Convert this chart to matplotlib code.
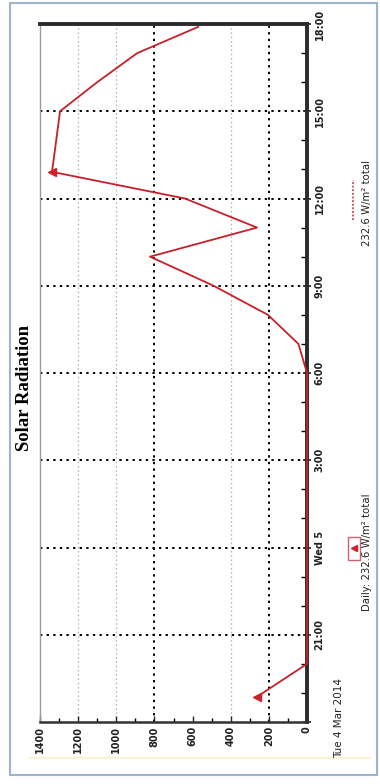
import matplotlib
matplotlib.use('Agg')
import matplotlib.pyplot as plt
from matplotlib.lines import Line2D
from matplotlib.patches import Rectangle
from matplotlib.ticker import MultipleLocator, FixedLocator

# solar radiation readings (W/m2), Tue 4 Mar 2014 18:00 -> Wed 18:00
times = ["18:52", "20:00", "21:00", "22:00", "23:00", "00:00", "01:00", "02:00",
         "03:00", "04:00", "05:00", "06:00", "07:00", "08:00", "09:00", "10:00",
         "11:00", "12:00", "12:55", "14:00", "15:00", "16:00", "17:00", "17:54"]
values = [262, 0, 0, 0, 0, 0, 0, 0,
          0, 0, 0, 0, 45, 205, 490, 823,
          262, 640, 1337, 1315, 1295, 1100, 890, 571]
marked = ["18:52", "12:55"]

tick_times = ["18:00", "21:00", "00:00", "03:00", "06:00", "09:00", "12:00", "15:00", "18:00"]
tick_labels = ["", "21:00", "Wed 5", "3:00", "6:00", "9:00", "12:00", "15:00", "18:00"]
value_ticks = [0, 200, 400, 600, 800, 1000, 1200, 1400]
strong_grid = [200, 800]
faint_grid = [400, 1000, 1200]
date_label = "Tue 4 Mar 2014"
title = "Solar Radiation"
legend_line = "232.6 W/m\u00b2 total"
legend_daily = "Daily: 232.6 W/m\u00b2 total"


def hours_since_start(t, i):
    hh, mm = t.split(":")
    h = (int(hh) + int(mm) / 60 - 18) % 24
    if i == len(tick_times) - 1 and h == 0:
        h = 24
    return h


t_hours = [hours_since_start(t, 0) for t in times]
tick_hours = [hours_since_start(t, i) for i, t in enumerate(tick_times)]
mark_idx = [times.index(t) for t in marked]

W, H = 380, 784
fig = plt.figure(figsize=(W / 100, H / 100), dpi=100)
fig.patch.set_facecolor('white')

# outer frame
fig.add_artist(Rectangle((10 / W, 1 - 775 / H), 367 / W, 772 / H, transform=fig.transFigure,
                         fill=False, ec='#9fb4cc', lw=1.5))
fig.add_artist(Line2D([30 / W, 370 / W], [1 - 758 / H, 1 - 758 / H], transform=fig.transFigure,
                      color='#fbf3d0', lw=1.5))

ax = fig.add_axes([40 / W, 1 - 722 / H, 267 / W, 698 / H])
ax.set_xlim(1400, 0)
ax.set_ylim(0, 24)

# grid
for v in strong_grid:
    ax.axvline(v, color='black', lw=1.4, ls=(0, (1.2, 2.2)), zorder=1)
for v in faint_grid:
    ax.axvline(v, color='#b0b0b0', lw=0.9, ls=(0, (1.2, 2.2)), zorder=1)
for h in tick_hours[1:-1]:
    ax.axhline(h, color='black', lw=1.4, ls=(0, (1.2, 2.2)), zorder=1)

ax.plot(values, t_hours, color='#c8202a', lw=1.3, zorder=6, clip_on=False)
ax.plot([values[i] for i in mark_idx], [t_hours[i] for i in mark_idx], ls='none',
        marker='<', color='#d0202a', ms=6, zorder=7, clip_on=False)

# spines
for s in ['right', 'top']:
    ax.spines[s].set_linewidth(2.8)
    ax.spines[s].set_color('#2e2a2a')
ax.spines['bottom'].set_linewidth(1.8)
ax.spines['bottom'].set_color('#333333')
ax.spines['left'].set_linewidth(1.0)
ax.spines['left'].set_color('#9a9a9a')
for s in ax.spines.values():
    s.set_zorder(5)

# value axis (bottom)
ax.xaxis.set_major_locator(FixedLocator(value_ticks))
ax.xaxis.set_minor_locator(MultipleLocator(100))
ax.set_xticklabels([str(v) for v in value_ticks])
ax.tick_params(axis='x', which='major', direction='in', length=4, width=1, pad=3,
               labelrotation=90, labelsize=7, colors='#222222')
ax.tick_params(axis='x', which='minor', direction='in', length=3, width=1)

# time axis (right)
ax.yaxis.tick_right()
ax.yaxis.set_major_locator(FixedLocator(tick_hours))
ax.yaxis.set_minor_locator(MultipleLocator(1))
ax.set_yticklabels(tick_labels)
ax.tick_params(axis='y', which='major', direction='inout', length=6, width=1.2, pad=2.5,
               labelrotation=90, labelsize=7, colors='#222222')
ax.tick_params(axis='y', which='minor', direction='in', length=4, width=1)
for lbl in ax.get_yticklabels() + ax.get_xticklabels():
    lbl.set_fontweight('bold')
for lbl in ax.get_yticklabels():
    lbl.set_va('center')

# title and date
fig.text(25 / W, 1 - 388 / H, title, rotation=90, ha='center', va='center',
         fontsize=13.5, fontweight='bold', family='Liberation Serif')
fig.text(339 / W, 1 - 718 / H, date_label, rotation=90, ha='center', va='center',
         fontsize=7.5, color='#222222')

# legend items
fig.add_artist(Line2D([353 / W, 353 / W], [1 - 220 / H, 1 - 180 / H], transform=fig.transFigure,
                      color='#d04050', lw=1.3, ls=(0, (1, 1))))
fig.text(367 / W, 1 - 203 / H, legend_line, rotation=90, ha='center', va='center',
         fontsize=7.3, color='#222222')
fig.add_artist(Rectangle((348 / W, 1 - 560 / H), 12 / W, 23 / H, transform=fig.transFigure,
                         fill=False, ec='#d06070', lw=1))
fig.add_artist(Line2D([354 / W], [1 - 548 / H], transform=fig.transFigure, marker='<',
                      color='#d0202a', ms=5, ls='none'))
fig.text(367 / W, 1 - 552 / H, legend_daily, rotation=90, ha='center', va='center',
         fontsize=7.3, color='#222222')

fig.savefig('out.png', dpi=100)
